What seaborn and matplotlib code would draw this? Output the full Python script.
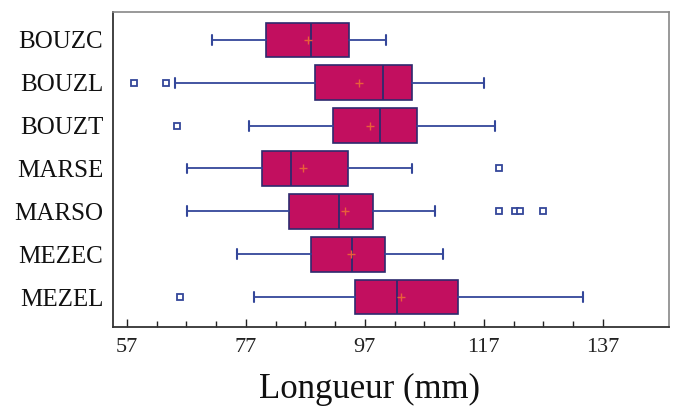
import numpy as np
import matplotlib
matplotlib.use('Agg')
import matplotlib.pyplot as plt
import seaborn as sns
from matplotlib.ticker import FixedLocator

# Groups, top to bottom
groups = ['BOUZC', 'BOUZL', 'BOUZT', 'MARSE', 'MARSO', 'MEZEC', 'MEZEL']

# Box summary (mm)
whislo = [71.4, 65.1, 77.6, 67.2, 67.2, 75.5, 78.3]
q1 = [80.4, 88.6, 91.7, 79.7, 84.3, 87.9, 95.4]
med = [87.9, 100.1, 99.5, 84.6, 92.7, 94.9, 102.4]
q3 = [94.4, 104.9, 105.8, 94.2, 98.4, 100.4, 112.6]
whishi = [100.5, 117.0, 118.9, 105.0, 108.8, 110.2, 133.7]
means = [87.5, 96.1, 97.9, 86.7, 93.7, 94.6, 103.1]
fliers = [[], [58.3, 63.6], [65.4], [119.6],
          [119.6, 122.3, 123.1, 127.0], [], [66.0]]

sns.set_style("white")
plt.rcParams['font.family'] = ['Liberation Serif', 'DejaVu Serif']

fig = plt.figure(figsize=(6.77, 4.15), dpi=100)
ax = fig.add_axes([0.167, 0.212, 0.821, 0.759])

stats = []
for i, g in enumerate(groups):
    stats.append(dict(label=g, whislo=whislo[i], q1=q1[i], med=med[i],
                      q3=q3[i], whishi=whishi[i], mean=means[i],
                      fliers=np.array(fliers[i])))

edge = '#2E2A6E'
blue = '#34479A'
ax.bxp(stats, positions=range(len(groups)), orientation='horizontal',
       widths=0.81, capwidths=0.23, patch_artist=True, showmeans=True,
       boxprops=dict(facecolor='#C20F5F', edgecolor=edge, linewidth=1.2),
       medianprops=dict(color=edge, linewidth=1.3),
       whiskerprops=dict(color=blue, linewidth=1.3),
       capprops=dict(color=blue, linewidth=1.5),
       flierprops=dict(marker='s', markerfacecolor='white',
                       markeredgecolor=blue, markersize=5, markeredgewidth=1.3),
       meanprops=dict(marker='+', markeredgecolor='#E8603A', markersize=6,
                      markeredgewidth=1.0))

ax.set_ylim(6.7, -0.65)
ax.set_xlim(54.7, 148.1)
ax.xaxis.set_major_locator(FixedLocator([57, 77, 97, 117, 137]))
ax.xaxis.set_minor_locator(FixedLocator(np.arange(57, 138, 5)))
ax.tick_params(axis='x', which='major', direction='in', length=6, width=1,
               labelsize=16, pad=8, bottom=True, colors='#222222')
ax.tick_params(axis='x', which='minor', direction='in', length=4, width=1,
               bottom=True, colors='#222222')
ax.tick_params(axis='y', length=0, labelsize=18, pad=7, labelcolor='#111111')

ax.set_xlabel('Longueur (mm)', fontsize=25, color='#111111')
ax.xaxis.set_label_coords(0.462, -0.145)

for side in ['left', 'bottom']:
    ax.spines[side].set_color('#333333')
    ax.spines[side].set_linewidth(1.3)
for side in ['top', 'right']:
    ax.spines[side].set_color('#888888')
    ax.spines[side].set_linewidth(1.2)

fig.savefig('out.png', dpi=100)
